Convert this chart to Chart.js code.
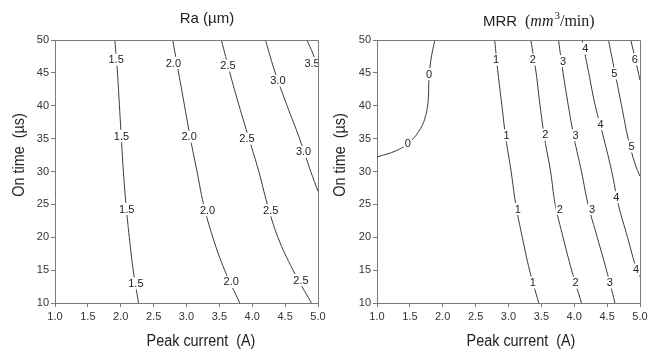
<!DOCTYPE html>
<html>
<head>
<meta charset="utf-8">
<script src="https://cdn.jsdelivr.net/npm/chart.js@4.4.7/dist/chart.umd.min.js"></script>
<style>
  html, body { margin: 0; padding: 0; background: #fff; }
  .panel { position: absolute; top: 0; width: 330px; height: 352px; }
  #leftWrap { left: 0; }
  #rightWrap { left: 329px; }
</style>
</head>
<body>
<div class="panel" id="leftWrap"><canvas id="raChart" width="330" height="352"></canvas></div>
<div class="panel" id="rightWrap"><canvas id="mrrChart" width="330" height="352"></canvas></div>
<script>
// axis ticks (shared by both panels)
const xTickValues = [1.0, 1.5, 2.0, 2.5, 3.0, 3.5, 4.0, 4.5, 5.0];
const yTickValues = [10, 15, 20, 25, 30, 35, 40, 45, 50];

// Ra contours, [peak current, on time]
const ra15 = [[1.91, 50], [1.95, 45], [1.98, 40], [2.01, 35], [2.04, 30], [2.08, 25], [2.13, 20], [2.19, 15], [2.27, 10]];
const ra20 = [[2.79, 50], [2.88, 45], [2.97, 40], [3.06, 35], [3.16, 30], [3.26, 25], [3.40, 20], [3.58, 15], [3.81, 10]];
const ra25 = [[3.53, 50], [3.66, 45], [3.80, 40], [3.95, 35], [4.10, 30], [4.23, 25], [4.39, 20], [4.62, 15], [4.90, 10]];
const ra30 = [[4.20, 50], [4.35, 45], [4.53, 40], [4.72, 35], [4.89, 30], [5.00, 27]];
const ra35 = [[4.83, 50], [4.92, 48], [5.00, 45.7]];
const raLabels = [
  ['1.5', 1.93, 47.0], ['1.5', 2.01, 35.4], ['1.5', 2.09, 24.3], ['1.5', 2.23, 13.0],
  ['2.0', 2.80, 46.5], ['2.0', 3.04, 35.3], ['2.0', 3.32, 24.1], ['2.0', 3.68, 13.2],
  ['2.5', 3.63, 46.1], ['2.5', 3.92, 35.0], ['2.5', 4.28, 24.1], ['2.5', 4.74, 13.5],
  ['3.0', 4.39, 43.8], ['3.0', 4.78, 33.0],
  ['3.5', 4.91, 46.5]
];

// MRR contours
const mrr0 = [[1.88, 50], [1.82, 47], [1.79, 44], [1.78, 41], [1.74, 38.5], [1.66, 36.5], [1.50, 34.5], [1.30, 33.2], [1.00, 32.2]];
const mrr1 = [[2.79, 50], [2.84, 45], [2.90, 40], [2.96, 35], [3.04, 30], [3.11, 25], [3.21, 20], [3.32, 15], [3.46, 10]];
const mrr2 = [[3.34, 50], [3.42, 45], [3.48, 40], [3.55, 35], [3.64, 30], [3.71, 25], [3.83, 20], [3.96, 15], [4.11, 10]];
const mrr3 = [[3.76, 50], [3.83, 45], [3.91, 40], [4.00, 35], [4.11, 30], [4.21, 25], [4.35, 20], [4.49, 15], [4.62, 10]];
const mrr4 = [[4.12, 50], [4.22, 45], [4.32, 40], [4.45, 35], [4.57, 30], [4.67, 25], [4.81, 20], [4.95, 15], [5.00, 14]];
const mrr5 = [[4.52, 50], [4.62, 45], [4.72, 40], [4.82, 35], [4.93, 31], [5.00, 29.3]];
const mrr6 = [[4.86, 50], [4.93, 47], [5.00, 43.9]];
const mrrLabels = [
  ['0', 1.79, 44.8], ['0', 1.47, 34.3],
  ['1', 2.81, 47.0], ['1', 2.97, 35.5], ['1', 3.14, 24.3], ['1', 3.37, 13.1],
  ['2', 3.37, 47.0], ['2', 3.56, 35.6], ['2', 3.78, 24.3], ['2', 4.02, 13.1],
  ['3', 3.83, 46.8], ['3', 4.02, 35.5], ['3', 4.27, 24.3], ['3', 4.54, 13.1],
  ['4', 4.17, 48.7], ['4', 4.40, 37.2], ['4', 4.64, 26.1], ['4', 4.94, 15.1],
  ['5', 4.61, 44.9], ['5', 4.87, 33.8],
  ['6', 4.92, 47.1]
];

const AXIS = '#7a7a7a';
const LINE = '#3a3a3a';
const SANS = 'Arial, "Liberation Sans", sans-serif';

function toPts(arr) {
  return arr.map(p => ({ x: p[0], y: p[1] }));
}

// squashed sans text, the source figure has slightly narrow lettering
function narrowText(ctx, text, cx, cy, size, rotate) {
  ctx.save();
  ctx.translate(cx, cy);
  if (rotate) ctx.rotate(-Math.PI / 2);
  ctx.scale(0.9, 1);
  ctx.font = size + 'px ' + SANS;
  ctx.fillStyle = '#222';
  ctx.textAlign = 'center';
  ctx.textBaseline = 'alphabetic';
  ctx.fillText(text, 0, 0);
  ctx.restore();
}

const contourLabels = {
  id: 'contourLabels',
  afterDatasetsDraw(chart, args, opts) {
    const { ctx, chartArea } = chart;
    const xs = chart.scales.x, ys = chart.scales.y;
    ctx.save();
    ctx.font = '11px ' + SANS;
    ctx.textAlign = 'center';
    ctx.textBaseline = 'middle';
    opts.labels.forEach(l => {
      const px = xs.getPixelForValue(l[1]);
      const py = ys.getPixelForValue(l[2]);
      const w = ctx.measureText(l[0]).width + 2;
      ctx.fillStyle = '#fff';
      ctx.fillRect(Math.max(px - w / 2, chartArea.left + 1), py - 6, w, 12);
      ctx.fillStyle = '#222';
      ctx.fillText(l[0], px, py + 0.5);
    });
    // top and right frame
    ctx.strokeStyle = AXIS;
    ctx.lineWidth = 1;
    ctx.beginPath();
    ctx.moveTo(chartArea.left, chartArea.top + 0.5);
    ctx.lineTo(chartArea.right + 0.5, chartArea.top + 0.5);
    ctx.lineTo(chartArea.right + 0.5, chartArea.bottom);
    ctx.stroke();
    ctx.restore();
  }
};

const panelText = {
  id: 'panelText',
  afterDraw(chart, args, opts) {
    const ctx = chart.ctx;
    ctx.save();
    if (opts.kind === 'ra') {
      ctx.font = '15px ' + SANS;
      ctx.fillStyle = '#222';
      ctx.textAlign = 'center';
      ctx.fillText('Ra (µm)', 207, 23);
    } else {
      ctx.font = '15px ' + SANS;
      ctx.fillStyle = '#222';
      ctx.textAlign = 'left';
      ctx.fillText('MRR', 154, 26);
      let x = 196;
      const serif = '"Liberation Serif", "DejaVu Serif", serif';
      const parts = [
        ['(', '16px ' + serif, 0],
        ['mm', 'italic 16px ' + serif, 0],
        ['3', '11px ' + serif, -7],
        ['/min', '16px ' + serif, 0],
        [')', '16px ' + serif, 0]
      ];
      parts.forEach(p => {
        ctx.font = p[1];
        ctx.fillText(p[0], x, 26 + p[2]);
        x += ctx.measureText(p[0]).width + (p[0] === 'mm' ? 1 : 0);
      });
    }
    narrowText(ctx, 'Peak current  (A)', opts.xTitleX, 346, 16, false);
    narrowText(ctx, 'On time  (µs)', opts.yTitleX, 155, 16, true);
    ctx.restore();
  }
};

function makeChart(canvasId, lines, labels, opts) {
  return new Chart(document.getElementById(canvasId), {
    type: 'scatter',
    data: {
      datasets: lines.map(l => ({
        data: toPts(l),
        showLine: true,
        borderColor: LINE,
        borderWidth: 1,
        pointRadius: 0,
        tension: 0.4
      }))
    },
    options: {
      responsive: false,
      animation: false,
      events: [],
      layout: { padding: { top: 40, right: opts.padRight, bottom: 0, left: 0 } },
      plugins: {
        legend: { display: false },
        tooltip: { enabled: false },
        contourLabels: { labels },
        panelText: { kind: opts.kind, xTitleX: opts.xTitleX, yTitleX: opts.yTitleX }
      },
      scales: {
        x: {
          type: 'linear', min: 1, max: 5,
          afterBuildTicks: s => { s.ticks = xTickValues.map(v => ({ value: v })); },
          afterFit: s => { s.height = 49; },
          ticks: {
            callback: v => Number(v).toFixed(1),
            font: { family: SANS, size: 11 },
            color: '#333',
            padding: 3,
            maxRotation: 0,
            autoSkip: false
          },
          grid: { drawOnChartArea: false, tickLength: 4, color: AXIS },
          border: { color: AXIS }
        },
        y: {
          type: 'linear', min: 10, max: 50,
          afterBuildTicks: s => { s.ticks = yTickValues.map(v => ({ value: v })); },
          afterFit: s => { s.width = opts.yWidth; },
          ticks: {
            font: { family: SANS, size: 11 },
            color: '#333',
            padding: 2,
            autoSkip: false
          },
          grid: { drawOnChartArea: false, tickLength: 4, color: AXIS },
          border: { color: AXIS }
        }
      }
    },
    plugins: [contourLabels, panelText]
  });
}

makeChart('raChart', [ra15, ra20, ra25, ra30, ra35], raLabels,
  { kind: 'ra', padRight: 12, yWidth: 55, xTitleX: 201, yTitleX: 24 });
makeChart('mrrChart', [mrr0, mrr1, mrr2, mrr3, mrr4, mrr5, mrr6], mrrLabels,
  { kind: 'mrr', padRight: 19, yWidth: 48, xTitleX: 192, yTitleX: 16 });
</script>
</body>
</html>
